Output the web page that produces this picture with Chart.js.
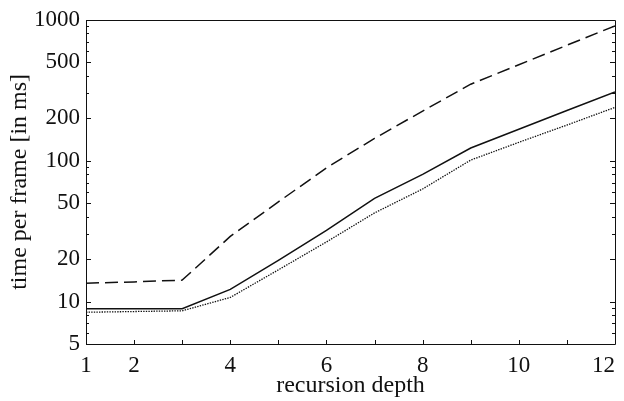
<!DOCTYPE html>
<html><head><meta charset="utf-8">
<script src="https://cdn.jsdelivr.net/npm/chart.js@4/dist/chart.umd.min.js"></script>
<style>html,body{margin:0;padding:0;background:#fff}#wrap{width:624px;height:401px;position:relative}</style>
</head><body><div id="wrap"><canvas id="c"></canvas></div>
<script>
const depth = [1,2,3,4,5,6,7,8,9,10,11,12];
const dashedSeries = [13.5,13.8,14.2,29,51,89,144,225,349,480,660,906];
const solidSeries  = [8.9,8.9,8.9,12.2,19.6,32,54,80,123,167,227,307];
const dottedSeries = [8.4,8.5,8.6,10.7,16.8,26.5,42.6,63,101,135,179,239];
const xTickLabels = [1,2,4,6,8,10,12];
const yTickLabels = [5,10,20,50,100,200,500,1000];
const yMinorTicks = [6,7,8,9,30,40,60,70,80,90,300,400,600,700,800,900];

const FONT = "'Liberation Serif', 'Times New Roman', serif";
const INK = '#111';

const pts = arr => depth.map((d,i)=>({x:d,y:arr[i]}));

const framePlugin = {
  id:'frame',
  afterDatasetsDraw(chart){
    const {ctx, chartArea:a, scales:{x,y}} = chart;
    ctx.save();
    ctx.strokeStyle = INK;
    ctx.lineWidth = 1;
    ctx.beginPath();
    ctx.rect(Math.round(a.left)+0.5, Math.round(a.top)+0.5, Math.round(a.right-a.left), Math.round(a.bottom-a.top));
    ctx.stroke();
    ctx.beginPath();
    depth.forEach(v=>{
      const px = Math.round(x.getPixelForValue(v))+0.5;
      ctx.moveTo(px, a.bottom); ctx.lineTo(px, a.bottom-4);
    });
    y.ticks.forEach(t=>{
      const py = Math.round(y.getPixelForValue(t.value))+0.5;
      const len = yTickLabels.includes(t.value) ? 5 : 3;
      ctx.moveTo(a.left, py); ctx.lineTo(a.left+len, py);
      ctx.moveTo(a.right, py); ctx.lineTo(a.right-len, py);
    });
    ctx.stroke();
    ctx.restore();
  }
};

new Chart(document.getElementById('c'), {
  type:'line',
  data:{datasets:[
    {data:pts(dashedSeries), borderColor:INK, borderWidth:1.5, borderDash:[13,6], pointRadius:0, tension:0},
    {data:pts(solidSeries), borderColor:INK, borderWidth:1.5, pointRadius:0, tension:0},
    {data:pts(dottedSeries), borderColor:INK, borderWidth:1.3, borderDash:[1.4,1.2], pointRadius:0, tension:0}
  ]},
  options:{
    responsive:true, maintainAspectRatio:false, animation:false,
    layout:{padding:{top:18,right:9,left:0,bottom:0}},
    plugins:{legend:{display:false}, tooltip:{enabled:false}},
    scales:{
      x:{type:'linear', min:1, max:12,
        grid:{display:false, drawTicks:false}, border:{display:false},
        ticks:{stepSize:1, autoSkip:false, maxRotation:0, padding:8, color:INK,
          font:{family:FONT, size:23},
          callback:v => xTickLabels.includes(v) ? (v===12 ? '12\u2002\u2002' : String(v)) : ''},
        title:{display:true, text:'recursion depth', color:INK, font:{family:FONT, size:24}, padding:{top:0,bottom:1}},
        afterFit(s){ s.height = 57; s.paddingLeft = 0; s.paddingRight = 0; }
      },
      y:{type:'logarithmic', min:5, max:1000,
        grid:{display:false, drawTicks:false}, border:{display:false},
        afterBuildTicks(s){ s.ticks = yTickLabels.concat(yMinorTicks).sort((a,b)=>a-b).map(v=>({value:v})); },
        ticks:{autoSkip:false, padding:6, color:INK, font:{family:FONT, size:23},
          callback:v => yTickLabels.includes(v) ? String(v) : ''},
        title:{display:true, text:'time per frame [in ms]', color:INK, font:{family:FONT, size:24}, padding:{top:5,bottom:0}},
        afterFit(s){ s.width = 86; }
      }
    }
  },
  plugins:[framePlugin]
});
</script></body></html>
